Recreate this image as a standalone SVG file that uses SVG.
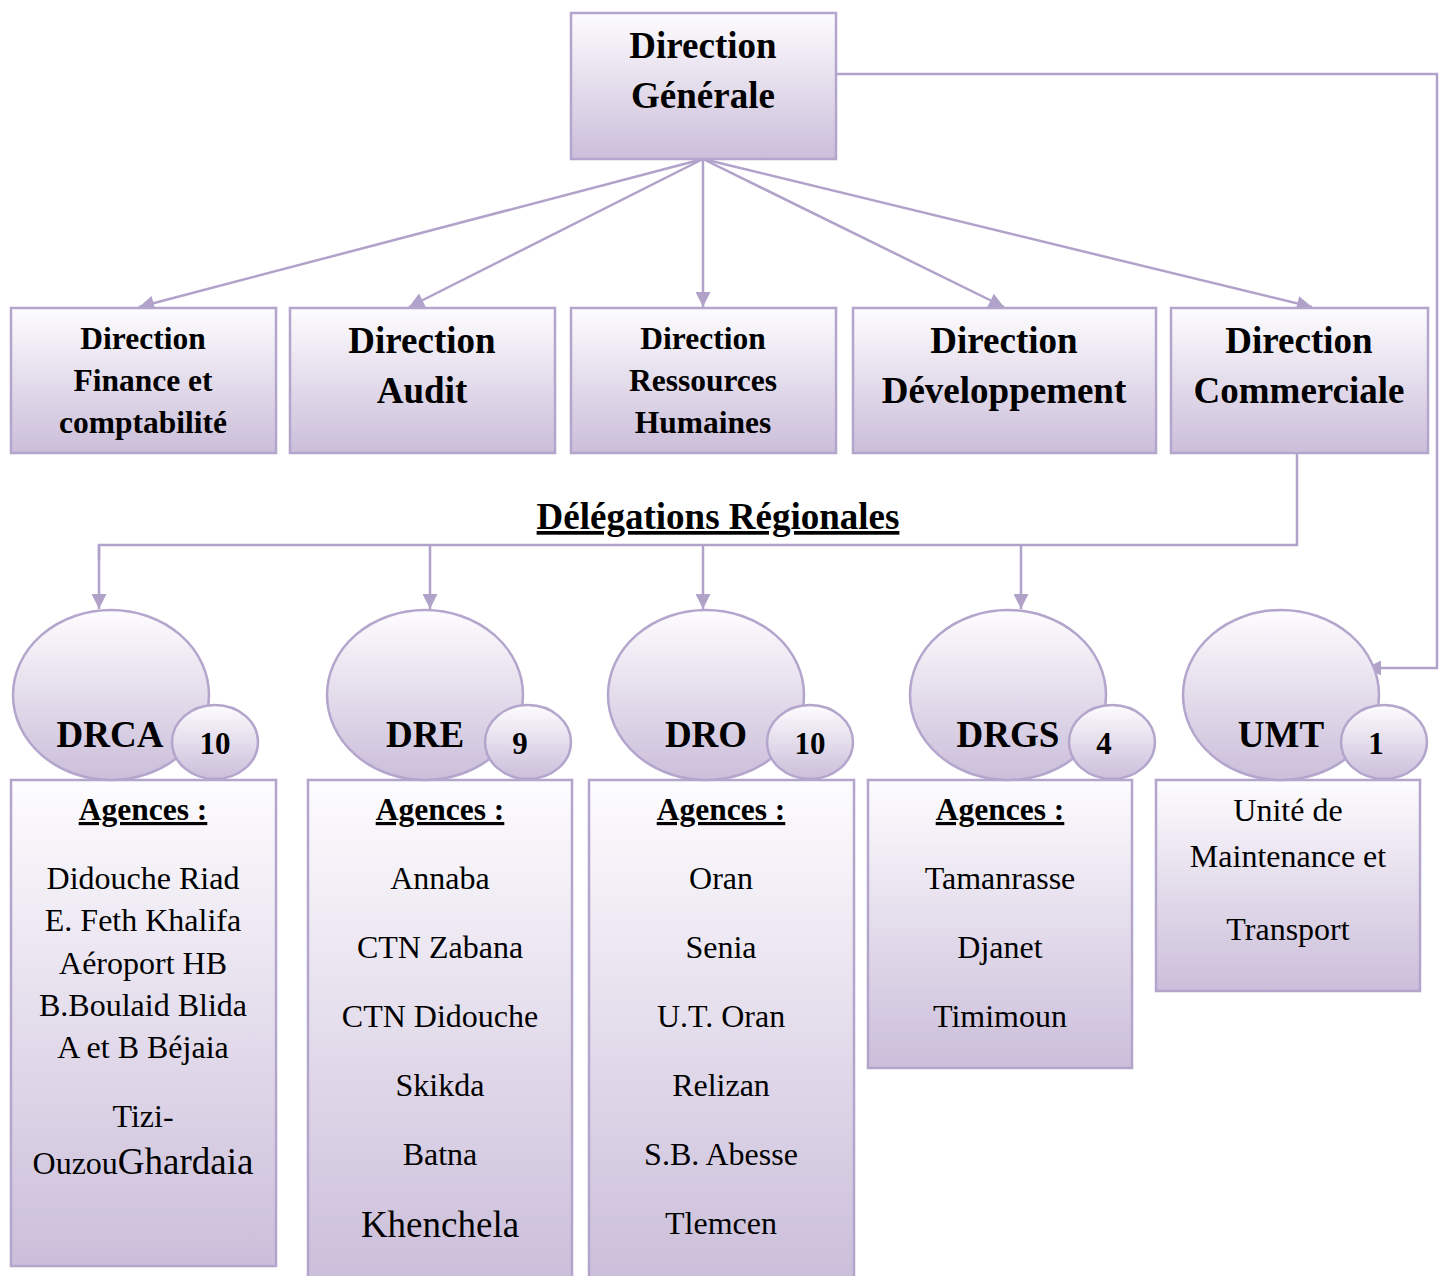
<svg xmlns="http://www.w3.org/2000/svg" width="1445" height="1276" viewBox="0 0 1445 1276">
<defs>
<linearGradient id="g" x1="0" y1="0" x2="0" y2="1">
<stop offset="0" stop-color="#fdfcfe"/>
<stop offset="1" stop-color="#cbbeda"/>
</linearGradient>
<marker id="ah" viewBox="0 0 10 10" refX="10" refY="5" markerWidth="17" markerHeight="15" orient="auto" markerUnits="userSpaceOnUse">
<path d="M0,0 L10,5 L0,10 z" fill="#b1a2ca"/>
</marker>
<style>
.bx{fill:url(#g);stroke:#b4a5cc;stroke-width:2.5}
.c{fill:none;stroke:#b1a2ca;stroke-width:2.5}
.a{marker-end:url(#ah)}
text{font-family:"Liberation Serif","Times New Roman",serif;fill:#000;text-anchor:middle}
.b{font-weight:bold}
.h{font-size:37px;font-weight:bold}
.s{font-size:31.5px;font-weight:bold}
.t{font-size:32px}
.u{text-decoration:underline}
</style>
</defs>
<rect width="1445" height="1276" fill="#fff"/>
<g id="connectors">
<line class="c a" x1="703" y1="159" x2="139" y2="307"/>
<line class="c a" x1="703" y1="159" x2="409" y2="307"/>
<line class="c a" x1="703" y1="159" x2="703" y2="307"/>
<line class="c a" x1="703" y1="159" x2="1004" y2="307"/>
<line class="c a" x1="703" y1="159" x2="1312" y2="307"/>
<polyline class="c a" points="836,74 1437,74 1437,668 1366,668"/>
<polyline class="c" points="1297,453 1297,545 99,545 99,560"/>
<line class="c a" x1="99" y1="545" x2="99" y2="609"/>
<line class="c a" x1="430" y1="545" x2="430" y2="609"/>
<line class="c a" x1="703" y1="545" x2="703" y2="609"/>
<line class="c a" x1="1021" y1="545" x2="1021" y2="609"/>
</g>
<g id="dg">
<rect class="bx" x="571" y="13" width="265" height="146"/>
<text class="h" x="703" y="58">Direction</text>
<text class="h" x="703" y="108">Générale</text>
</g>
<g id="dfc">
<rect class="bx" x="11" y="308" width="265" height="145"/>
<text class="s" x="143" y="349">Direction</text>
<text class="s" x="143" y="391">Finance et</text>
<text class="s" x="143" y="433">comptabilité</text>
</g>
<g id="da">
<rect class="bx" x="290" y="308" width="265" height="145"/>
<text class="h" x="422" y="353">Direction</text>
<text class="h" x="422" y="403">Audit</text>
</g>
<g id="drh">
<rect class="bx" x="571" y="308" width="265" height="145"/>
<text class="s" x="703" y="349">Direction</text>
<text class="s" x="703" y="391">Ressources</text>
<text class="s" x="703" y="433">Humaines</text>
</g>
<g id="dd">
<rect class="bx" x="853" y="308" width="303" height="145"/>
<text class="h" x="1004" y="353">Direction</text>
<text class="h" x="1004" y="403">Développement</text>
</g>
<g id="dc">
<rect class="bx" x="1171" y="308" width="257" height="145"/>
<text class="h" x="1299" y="353">Direction</text>
<text class="h" x="1299" y="403">Commerciale</text>
</g>
<text class="h u" x="718" y="529">Délégations Régionales</text>
<g id="drca">
<rect class="bx" x="11" y="780" width="265" height="486"/>
<ellipse class="bx" cx="111" cy="695" rx="98" ry="85"/>
<ellipse class="bx" cx="215" cy="742" rx="43" ry="37"/>
<text class="b" x="110" y="747" font-size="37">DRCA</text>
<text class="b" x="215" y="754" font-size="31">10</text>
<text class="s u" x="143" y="820">Agences :</text>
<text class="t" x="143" y="889">Didouche Riad</text>
<text class="t" x="143" y="931">E. Feth Khalifa</text>
<text class="t" x="143" y="974">Aéroport HB</text>
<text class="t" x="143" y="1016">B.Boulaid Blida</text>
<text class="t" x="143" y="1058">A et B Béjaia</text>
<text class="t" x="143" y="1127">Tizi-</text>
<text x="143" y="1174" font-size="32">Ouzou<tspan font-size="37">Ghardaia</tspan></text>
</g>
<g id="dre">
<rect class="bx" x="308" y="780" width="264" height="500"/>
<ellipse class="bx" cx="425" cy="695" rx="98" ry="85"/>
<ellipse class="bx" cx="528" cy="742" rx="43" ry="37"/>
<text class="b" x="425" y="747" font-size="37">DRE</text>
<text class="b" x="520" y="754" font-size="31">9</text>
<text class="s u" x="440" y="820">Agences :</text>
<text class="t" x="440" y="889">Annaba</text>
<text class="t" x="440" y="958">CTN Zabana</text>
<text class="t" x="440" y="1027">CTN Didouche</text>
<text class="t" x="440" y="1096">Skikda</text>
<text class="t" x="440" y="1165">Batna</text>
<text x="440" y="1237" font-size="37">Khenchela</text>
</g>
<g id="dro">
<rect class="bx" x="589" y="780" width="265" height="500"/>
<ellipse class="bx" cx="706" cy="695" rx="98" ry="85"/>
<ellipse class="bx" cx="810" cy="742" rx="43" ry="37"/>
<text class="b" x="706" y="747" font-size="37">DRO</text>
<text class="b" x="810" y="754" font-size="31">10</text>
<text class="s u" x="721" y="820">Agences :</text>
<text class="t" x="721" y="889">Oran</text>
<text class="t" x="721" y="958">Senia</text>
<text class="t" x="721" y="1027">U.T. Oran</text>
<text class="t" x="721" y="1096">Relizan</text>
<text class="t" x="721" y="1165">S.B. Abesse</text>
<text class="t" x="721" y="1234">Tlemcen</text>
</g>
<g id="drgs">
<rect class="bx" x="868" y="780" width="264" height="288"/>
<ellipse class="bx" cx="1008" cy="695" rx="98" ry="85"/>
<ellipse class="bx" cx="1112" cy="742" rx="43" ry="37"/>
<text class="b" x="1008" y="747" font-size="37">DRGS</text>
<text class="b" x="1104" y="754" font-size="31">4</text>
<text class="s u" x="1000" y="820">Agences :</text>
<text class="t" x="1000" y="889">Tamanrasse</text>
<text class="t" x="1000" y="958">Djanet</text>
<text class="t" x="1000" y="1027">Timimoun</text>
</g>
<g id="umt">
<rect class="bx" x="1156" y="780" width="264" height="211"/>
<ellipse class="bx" cx="1281" cy="695" rx="98" ry="85"/>
<ellipse class="bx" cx="1384" cy="742" rx="43" ry="37"/>
<text class="b" x="1281" y="747" font-size="37">UMT</text>
<text class="b" x="1376" y="754" font-size="31">1</text>
<text class="t" x="1288" y="821">Unité de</text>
<text class="t" x="1288" y="867">Maintenance et</text>
<text class="t" x="1288" y="940">Transport</text>
</g>
</svg>
